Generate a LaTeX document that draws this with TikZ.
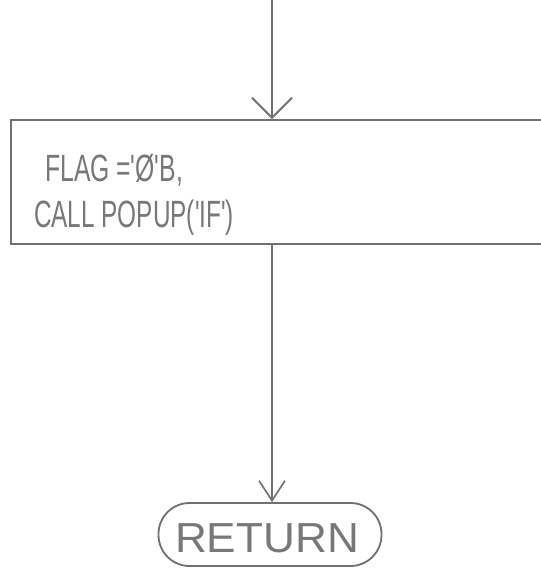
\documentclass[tikz,border=0pt]{standalone}
\usepackage{fontspec}
\setmainfont{Liberation Sans}
\usetikzlibrary{arrows.meta}
\definecolor{ink}{HTML}{707070}
\definecolor{txt}{HTML}{787878}
\tikzset{
  flowline/.style={draw=ink, line width=1.8pt},
  vtip/.style={-{Straight Barb[length=20pt,width=40pt,line width=1.8pt]}},
  vtipsmall/.style={-{Straight Barb[length=20pt,width=26pt,line width=1.6pt]}},
  procbox/.style={draw=ink, line width=1.8pt, minimum width=560pt, minimum height=124pt, anchor=north west, inner sep=0pt},
  termbox/.style={draw=ink, line width=1.8pt, rounded corners=31pt, minimum width=223pt, minimum height=63pt, inner sep=0pt},
  hand/.style={text=txt, font=\fontsize{38}{44}\selectfont, inner sep=0pt, anchor=base west}
}
\begin{document}
\begin{tikzpicture}[x=1pt,y=-1pt]
\useasboundingbox (0,0) rectangle (541,582);
\clip (0,0) rectangle (541,582);
\fill[white] (0,0) rectangle (541,582);
\coordinate (start) at (272,0);
\node[procbox] (box) at (10,119) {};
\node[hand] (l1) at (45,181) {\scalebox{0.65}[1]{FLAG =\textquotesingle Ø\textquotesingle B,}};
\node[hand] (l2) at (34,227) {\scalebox{0.64}[1]{CALL POPUP(\textquotesingle IF\textquotesingle)}};
\node[termbox] (ret) at (270,534.5) {};
\node[text=txt, font=\fontsize{42}{48}\selectfont, inner sep=0pt] (rt) at (267,538) {\scalebox{1.05}[1]{RETURN}};
\draw[flowline, vtip] (start) -- (start |- box.north);
\coordinate (bstart) at (272,243);
\draw[flowline, vtipsmall] (bstart) -- (bstart |- ret.north);
\end{tikzpicture}
\end{document}
